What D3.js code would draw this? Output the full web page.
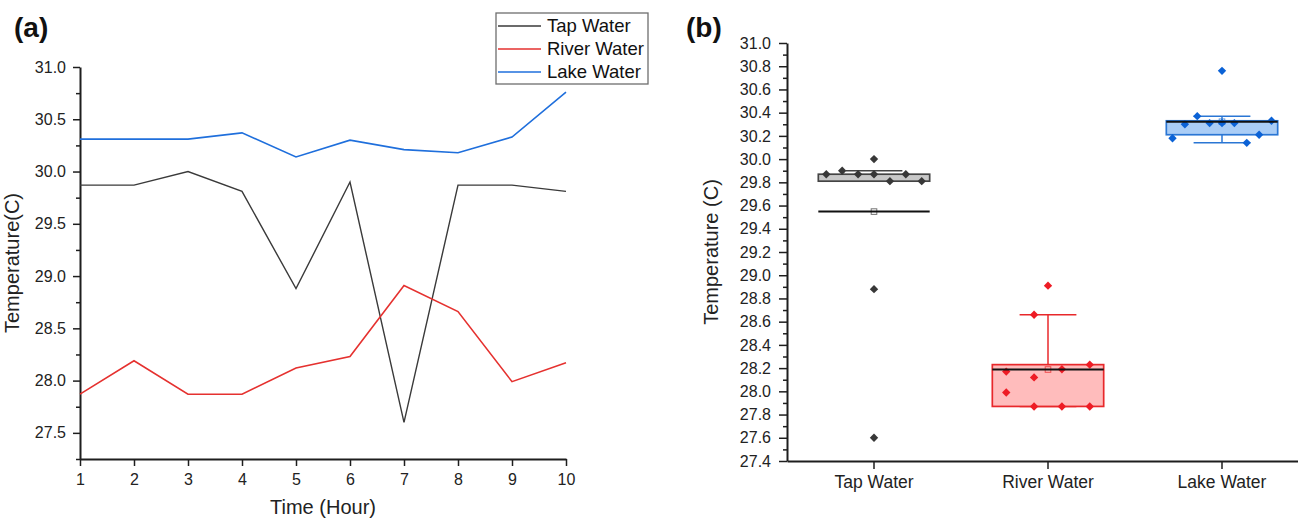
<!DOCTYPE html>
<html>
<head>
<meta charset="utf-8">
<script src="https://cdn.jsdelivr.net/npm/d3@7"></script>
<style>
  html, body { margin: 0; padding: 0; background: #fff; }
  svg { display: block; font-family: "Liberation Sans", Arial, sans-serif; }
</style>
</head>
<body>
<svg id="chart" width="1298" height="518"></svg>
<script>
// ---- data: hourly water temperature (°C) ----
const hours = [1, 2, 3, 4, 5, 6, 7, 8, 9, 10];
const tapWater   = [29.87, 29.87, 30.00, 29.81, 28.88, 29.90, 27.60, 29.87, 29.87, 29.81];
const riverWater = [27.87, 28.19, 27.87, 27.87, 28.12, 28.23, 28.91, 28.66, 27.99, 28.17];
const lakeWater  = [30.31, 30.31, 30.31, 30.37, 30.14, 30.30, 30.21, 30.18, 30.33, 30.76];
const seriesNames = ["Tap Water", "River Water", "Lake Water"];

// ---- tick values ----
const hourTicks = [1, 2, 3, 4, 5, 6, 7, 8, 9, 10];
const tempTicksA = [27.5, 28.0, 28.5, 29.0, 29.5, 30.0, 30.5, 31.0];
const tempTicksB = [27.4, 27.6, 27.8, 28.0, 28.2, 28.4, 28.6, 28.8, 29.0,
                    29.2, 29.4, 29.6, 29.8, 30.0, 30.2, 30.4, 30.6, 30.8, 31.0];

// ---- styles ----
const lineColors = { "Tap Water": "#3a3a3a", "River Water": "#e5312f", "Lake Water": "#1f6fdc" };
const boxStyle = {
  "Tap Water":   { fill: "#c8c8c8", stroke: "#444444", point: "#383838" },
  "River Water": { fill: "#ffbcbc", stroke: "#e8282b", point: "#ee1c25" },
  "Lake Water":  { fill: "#aacdf6", stroke: "#2a76d4", point: "#0b62d6" }
};
const axisColor = "#1e1e1e";

const series = [
  { name: "Tap Water", values: tapWater },
  { name: "River Water", values: riverWater },
  { name: "Lake Water", values: lakeWater }
];

const svg = d3.select("#chart");
svg.append("rect").attr("width", 1298).attr("height", 518).attr("fill", "#fff");

function styleAxis(g, fontSize) {
  g.select(".domain").attr("stroke", axisColor).attr("stroke-width", 2);
  g.selectAll(".tick line").attr("stroke", axisColor).attr("stroke-width", 1.5);
  g.selectAll(".tick text")
    .attr("fill", "#222")
    .style("font-size", fontSize + "px")
    .style("font-family", '"Liberation Sans", Arial, sans-serif');
}
function minorValues(majors, step) {
  const out = [];
  for (let i = 0; i < majors.length - 1; i++) {
    const a = majors[i], b = majors[i + 1];
    for (let v = a + step; v < b - step / 2; v += step) out.push(+v.toFixed(3));
  }
  return out;
}

// =================== (a) line chart ===================
const xA = d3.scaleLinear().domain([1, 10]).range([80, 566]);
const yA = d3.scaleLinear().domain([27.25, 31.0]).range([459, 67]);

const gA = svg.append("g");

gA.append("g")
  .attr("transform", "translate(0,459)")
  .call(d3.axisBottom(xA).tickValues(hourTicks).tickFormat(d3.format("d"))
        .tickSize(7).tickPadding(8).tickSizeOuter(0))
  .call(g => styleAxis(g, 16));

gA.append("g")
  .attr("transform", "translate(80,0)")
  .call(d3.axisLeft(yA).tickValues(minorValues([27.25].concat(tempTicksA), 0.25).concat([27.25]))
        .tickFormat("").tickSize(4).tickSizeOuter(0))
  .call(g => { g.select(".domain").remove(); g.selectAll(".tick line").attr("stroke", axisColor).attr("stroke-width", 1.5); });

gA.append("g")
  .attr("transform", "translate(80,0)")
  .call(d3.axisLeft(yA).tickValues(tempTicksA).tickFormat(d3.format(".1f"))
        .tickSize(7).tickPadding(7).tickSizeOuter(0))
  .call(g => styleAxis(g, 16));

const lineA = d3.line().x((d, i) => xA(hours[i])).y(d => yA(d));
series.forEach(s => {
  gA.append("path")
    .datum(s.values)
    .attr("fill", "none")
    .attr("stroke", lineColors[s.name])
    .attr("stroke-width", s.name === "Tap Water" ? 1.4 : 1.6)
    .attr("stroke-linejoin", "miter")
    .attr("d", lineA);
});

// legend
const legend = gA.append("g");
legend.append("rect")
  .attr("x", 496).attr("y", 13).attr("width", 152).attr("height", 71)
  .attr("fill", "#fff").attr("stroke", "#6e6e6e").attr("stroke-width", 1.3);
seriesNames.forEach((name, i) => {
  const y = 26 + i * 23;
  legend.append("line")
    .attr("x1", 498).attr("x2", 541).attr("y1", y).attr("y2", y)
    .attr("stroke", lineColors[name]).attr("stroke-width", 1.6);
  legend.append("text")
    .attr("x", 547).attr("y", y).attr("dy", "0.35em")
    .attr("fill", "#111").style("font-size", "18.5px")
    .text(name);
});

gA.append("text")
  .attr("x", 323).attr("y", 514).attr("text-anchor", "middle")
  .attr("fill", "#222").style("font-size", "20px")
  .text("Time (Hour)");
gA.append("text")
  .attr("transform", "translate(19,263) rotate(-90)")
  .attr("text-anchor", "middle")
  .attr("fill", "#222").style("font-size", "20px")
  .text("Temperature(C)");
gA.append("text")
  .attr("x", 14).attr("y", 37)
  .attr("fill", "#111").style("font-size", "28px").style("font-weight", "bold")
  .text("(a)");

// =================== (b) box chart ===================
const xB = d3.scaleBand().domain(seriesNames).range([787, 1309]).padding(0);
const yB = d3.scaleLinear().domain([27.4, 31.0]).range([461, 43]);
const gB = svg.append("g");

gB.append("g")
  .attr("transform", "translate(787,0)")
  .call(d3.axisLeft(yB).tickValues(minorValues(tempTicksB, 0.1))
        .tickFormat("").tickSize(4).tickSizeOuter(0))
  .call(g => { g.select(".domain").remove(); g.selectAll(".tick line").attr("stroke", axisColor).attr("stroke-width", 1.5); });

gB.append("g")
  .attr("transform", "translate(787,0)")
  .call(d3.axisLeft(yB).tickValues(tempTicksB).tickFormat(d3.format(".1f"))
        .tickSize(8).tickPadding(8).tickSizeOuter(0))
  .call(g => styleAxis(g, 16));

gB.append("g")
  .attr("transform", "translate(0,461)")
  .call(d3.axisBottom(xB).tickSize(8).tickPadding(7).tickSizeOuter(0))
  .call(g => styleAxis(g, 17.5));

gB.append("text")
  .attr("transform", "translate(718,252) rotate(-90)")
  .attr("text-anchor", "middle")
  .attr("fill", "#222").style("font-size", "20px")
  .text("Temperature (C)");
gB.append("text")
  .attr("x", 686).attr("y", 37)
  .attr("fill", "#111").style("font-size", "28px").style("font-weight", "bold")
  .text("(b)");

// box statistics: Tukey hinges, 1.5·IQR whiskers, mean
function boxStats(values) {
  const s = values.slice().sort(d3.ascending);
  const n = s.length, h = Math.floor(n / 2);
  const q1 = d3.median(s.slice(0, n % 2 ? h + 1 : h));
  const q3 = d3.median(s.slice(h));
  const iqr = q3 - q1;
  const lo = q1 - 1.5 * iqr - 1e-9, hi = q3 + 1.5 * iqr + 1e-9;
  const inside = s.filter(v => v >= lo && v <= hi);
  return { q1, q3, mean: d3.mean(s), wLow: d3.min(inside), wHigh: d3.max(inside), lo, hi };
}

// binned point spread: values grouped in 0.5° bins, spread across the box
function spreadSlots(values, binSize) {
  const bins = d3.group(values.map((v, i) => ({ v, i })), d => Math.floor(d.v / binSize + 1e-9));
  const n = d3.max(Array.from(bins.values()), b => b.length);
  const c = Math.floor(n / 2);
  const order = [c];
  for (let k = 1; order.length < n; k++) {
    if (c - k >= 0) order.push(c - k);
    if (c + k < n && order.length < n) order.push(c + k);
  }
  const slot = new Array(values.length);
  bins.forEach(b => b.forEach((d, j) => { slot[d.i] = order[j] - (n - 1) / 2; }));
  return { slot, n };
}

const diamond = "M0,-4.2L4.2,0L0,4.2L-4.2,0Z";

series.forEach(s => {
  const st = boxStyle[s.name];
  const cx = xB(s.name) + xB.bandwidth() / 2;
  const bw = xB.bandwidth() * 0.64;
  const cw = bw * 0.51;
  const b = boxStats(s.values);
  const g = gB.append("g");

  // whiskers
  g.append("line").attr("x1", cx).attr("x2", cx)
    .attr("y1", yB(b.q3)).attr("y2", yB(b.wHigh))
    .attr("stroke", st.stroke).attr("stroke-width", 1.5);
  g.append("line").attr("x1", cx).attr("x2", cx)
    .attr("y1", yB(b.q1)).attr("y2", yB(b.wLow))
    .attr("stroke", st.stroke).attr("stroke-width", 1.5);
  [b.wHigh, b.wLow].forEach(v => {
    g.append("line").attr("x1", cx - cw / 2).attr("x2", cx + cw / 2)
      .attr("y1", yB(v)).attr("y2", yB(v))
      .attr("stroke", st.stroke).attr("stroke-width", 1.5);
  });

  // box
  g.append("rect")
    .attr("x", cx - bw / 2).attr("width", bw)
    .attr("y", yB(b.q3)).attr("height", Math.max(1, yB(b.q1) - yB(b.q3)))
    .attr("fill", st.fill).attr("stroke", st.stroke).attr("stroke-width", 1.7);

  // mean marker (hollow square), drawn beneath the data points
  g.append("rect")
    .attr("x", cx - 2.8).attr("y", yB(b.mean) - 2.8)
    .attr("width", 5.6).attr("height", 5.6)
    .attr("fill", "none")
    .attr("stroke", st.stroke).attr("stroke-opacity", 0.75).attr("stroke-width", 1);

  // data points
  const sp = spreadSlots(s.values, 0.5);
  const step = bw / sp.n;
  s.values.forEach((v, i) => {
    const out = v < b.lo || v > b.hi;
    const x = cx + (out ? 0 : sp.slot[i] * step);
    g.append("path").attr("d", diamond)
      .attr("transform", `translate(${x},${yB(v)})`)
      .attr("fill", st.point);
  });

  // mean line
  g.append("line")
    .attr("x1", cx - bw / 2).attr("x2", cx + bw / 2)
    .attr("y1", yB(b.mean)).attr("y2", yB(b.mean))
    .attr("stroke", "#111").attr("stroke-width", 2);
});
</script>
</body>
</html>
